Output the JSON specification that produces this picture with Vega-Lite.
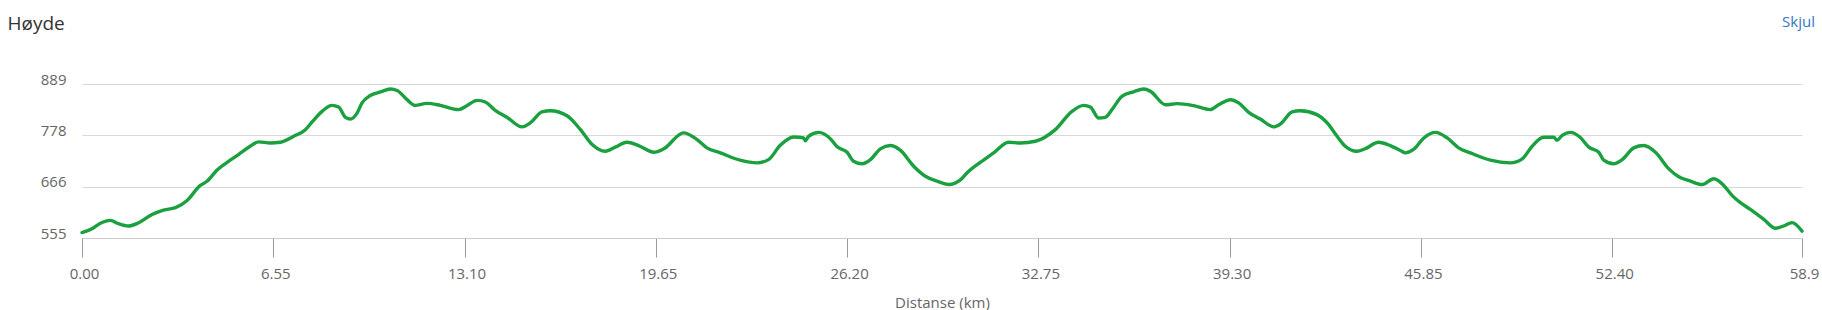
{
  "$schema": "https://vega.github.io/schema/vega-lite/v6.json",
  "width": 1720,
  "height": 154,
  "autosize": {"type": "none"},
  "padding": {"left": 82, "top": 84, "right": 20, "bottom": 72},
  "background": "white",
  "title": {
    "text": "Skjul",
    "anchor": "end",
    "frame": "group",
    "font": "Open Sans",
    "fontSize": 15,
    "fontWeight": "normal",
    "color": "#2f78c4",
    "baseline": "alphabetic",
    "dx": 13,
    "offset": -28
  },
  "data": {
    "values": [
      {"km": 0, "m": 566.7}, {"km": 0.34, "m": 575}, {"km": 0.63, "m": 586.8}, {"km": 0.97, "m": 593.3},
      {"km": 1.25, "m": 586}, {"km": 1.6, "m": 581}, {"km": 1.94, "m": 588}, {"km": 2.4, "m": 606},
      {"km": 2.79, "m": 615.6}, {"km": 3.2, "m": 620.7}, {"km": 3.6, "m": 636.5}, {"km": 4.05, "m": 669},
      {"km": 4.28, "m": 678}, {"km": 4.62, "m": 702}, {"km": 4.97, "m": 719}, {"km": 5.36, "m": 736},
      {"km": 5.76, "m": 754}, {"km": 6.05, "m": 763.5}, {"km": 6.45, "m": 761}, {"km": 6.79, "m": 762.7},
      {"km": 7.25, "m": 775.6}, {"km": 7.65, "m": 790}, {"km": 7.88, "m": 806.8}, {"km": 8.22, "m": 829.7},
      {"km": 8.56, "m": 842.7}, {"km": 8.79, "m": 839}, {"km": 9.02, "m": 816.7}, {"km": 9.19, "m": 813},
      {"km": 9.42, "m": 826}, {"km": 9.59, "m": 848}, {"km": 9.87, "m": 864}, {"km": 10.22, "m": 871.7},
      {"km": 10.56, "m": 878}, {"km": 10.79, "m": 875}, {"km": 11.13, "m": 855}, {"km": 11.41, "m": 842.7},
      {"km": 11.81, "m": 847}, {"km": 12.27, "m": 842.7}, {"km": 12.9, "m": 833.4}, {"km": 13.18, "m": 842},
      {"km": 13.53, "m": 853.5}, {"km": 13.81, "m": 850}, {"km": 14.15, "m": 832}, {"km": 14.55, "m": 817},
      {"km": 15.07, "m": 796}, {"km": 15.35, "m": 804.6}, {"km": 15.75, "m": 828.4}, {"km": 16.04, "m": 831},
      {"km": 16.61, "m": 820}, {"km": 17.07, "m": 790}, {"km": 17.47, "m": 757.7}, {"km": 17.92, "m": 743},
      {"km": 18.26, "m": 752}, {"km": 18.66, "m": 762.7}, {"km": 19.06, "m": 755.5}, {"km": 19.58, "m": 741},
      {"km": 19.92, "m": 748.4}, {"km": 20.6, "m": 783}, {"km": 21.06, "m": 768.5}, {"km": 21.4, "m": 750.5},
      {"km": 21.86, "m": 739.7}, {"km": 22.54, "m": 723.7}, {"km": 23.12, "m": 718}, {"km": 23.51, "m": 725},
      {"km": 23.91, "m": 756}, {"km": 24.37, "m": 774}, {"km": 24.71, "m": 772}, {"km": 24.77, "m": 765.7},
      {"km": 24.88, "m": 775.6}, {"km": 25.23, "m": 784}, {"km": 25.63, "m": 770}, {"km": 25.86, "m": 752.7},
      {"km": 26.2, "m": 741}, {"km": 26.42, "m": 721.6}, {"km": 26.71, "m": 716}, {"km": 27.0, "m": 725},
      {"km": 27.34, "m": 748.4}, {"km": 27.68, "m": 755.5}, {"km": 28.02, "m": 745.4}, {"km": 28.48, "m": 710.7},
      {"km": 28.88, "m": 689}, {"km": 29.28, "m": 678.3}, {"km": 29.68, "m": 671}, {"km": 30.08, "m": 681},
      {"km": 30.31, "m": 696.5}, {"km": 30.76, "m": 719}, {"km": 31.22, "m": 739.7}, {"km": 31.73, "m": 762.7},
      {"km": 32.13, "m": 761}, {"km": 32.65, "m": 764.8}, {"km": 33.33, "m": 790}, {"km": 33.9, "m": 829.7},
      {"km": 34.3, "m": 842.7}, {"km": 34.53, "m": 839}, {"km": 34.81, "m": 815.4}, {"km": 35.04, "m": 816.7},
      {"km": 35.27, "m": 833.4}, {"km": 35.61, "m": 862}, {"km": 36.01, "m": 872}, {"km": 36.36, "m": 878},
      {"km": 36.59, "m": 873}, {"km": 37.1, "m": 844}, {"km": 37.5, "m": 846.4}, {"km": 38.07, "m": 842},
      {"km": 38.64, "m": 833.4}, {"km": 38.92, "m": 844}, {"km": 39.33, "m": 855}, {"km": 39.61, "m": 848},
      {"km": 39.95, "m": 827.5}, {"km": 40.35, "m": 813}, {"km": 40.81, "m": 796}, {"km": 41.04, "m": 802.4},
      {"km": 41.44, "m": 828.4}, {"km": 41.72, "m": 831}, {"km": 42.29, "m": 822.6}, {"km": 42.64, "m": 804.6},
      {"km": 42.98, "m": 775.6}, {"km": 43.26, "m": 754}, {"km": 43.66, "m": 743}, {"km": 43.95, "m": 749},
      {"km": 44.4, "m": 762.7}, {"km": 44.8, "m": 755.5}, {"km": 45.15, "m": 744.7}, {"km": 45.32, "m": 739.7},
      {"km": 45.6, "m": 747}, {"km": 45.95, "m": 772}, {"km": 46.35, "m": 784}, {"km": 46.75, "m": 772},
      {"km": 47.14, "m": 750.5}, {"km": 47.54, "m": 739.7}, {"km": 48.23, "m": 723.7}, {"km": 48.91, "m": 718},
      {"km": 49.32, "m": 726.7}, {"km": 49.66, "m": 754}, {"km": 50.05, "m": 773.5}, {"km": 50.4, "m": 773.5},
      {"km": 50.51, "m": 767}, {"km": 50.68, "m": 777}, {"km": 50.96, "m": 784}, {"km": 51.3, "m": 773.5},
      {"km": 51.6, "m": 752}, {"km": 51.94, "m": 741}, {"km": 52.11, "m": 723.7}, {"km": 52.45, "m": 716},
      {"km": 52.74, "m": 725}, {"km": 53.14, "m": 750.5}, {"km": 53.48, "m": 755.5}, {"km": 53.88, "m": 741},
      {"km": 54.34, "m": 705}, {"km": 54.68, "m": 687.8}, {"km": 55.08, "m": 678.3}, {"km": 55.48, "m": 671},
      {"km": 55.88, "m": 683.5}, {"km": 56.22, "m": 669}, {"km": 56.51, "m": 647}, {"km": 56.79, "m": 631.6},
      {"km": 57.13, "m": 617}, {"km": 57.59, "m": 595.5}, {"km": 57.99, "m": 576}, {"km": 58.27, "m": 581},
      {"km": 58.56, "m": 588.3}, {"km": 58.9, "m": 570}
    ]
  },
  "mark": {
    "type": "line",
    "color": "#1aa03f",
    "strokeWidth": 3.4,
    "strokeCap": "round",
    "strokeJoin": "round",
    "interpolate": "monotone"
  },
  "encoding": {
    "x": {
      "field": "km",
      "type": "quantitative",
      "scale": {"domain": [0, 58.9], "nice": false, "zero": false},
      "axis": {
        "title": "Distanse (km)",
        "titleFont": "Open Sans",
        "titleFontSize": 15,
        "titleFontWeight": "normal",
        "titleColor": "#666666",
        "titleBaseline": "alphabetic",
        "titleY": 69,
        "values": [0, 6.55, 13.1, 19.65, 26.2, 32.75, 39.3, 45.85, 52.4, 58.9],
        "labelExpr": "datum.value >= 58.89 ? '58.9' : format(datum.value, '.2f')",
        "labelFont": "Open Sans",
        "labelFontSize": 15,
        "labelColor": "#666666",
        "labelPadding": 9,
        "labelOffset": 2,
        "labelFlush": false,
        "labelOverlap": false,
        "grid": false,
        "domainColor": "#cccccc",
        "domainWidth": 1,
        "tickColor": "#999999",
        "tickSize": 19,
        "tickWidth": 1
      }
    },
    "y": {
      "field": "m",
      "type": "quantitative",
      "scale": {"domain": [555, 889], "nice": false, "zero": false},
      "axis": {
        "title": "Høyde",
        "titleFont": "Open Sans",
        "titleFontSize": 19,
        "titleFontWeight": "normal",
        "titleColor": "#333333",
        "titleAngle": 0,
        "titleAlign": "left",
        "titleBaseline": "alphabetic",
        "titleX": -75,
        "titleY": -55,
        "values": [555, 666.33, 777.67, 889],
        "format": ".0f",
        "labelFont": "Open Sans",
        "labelFontSize": 15,
        "labelColor": "#666666",
        "labelBaseline": "alphabetic",
        "labelPadding": 16,
        "labelOverlap": false,
        "domain": false,
        "ticks": false,
        "grid": true,
        "gridColor": "#d8d8d8",
        "gridWidth": 1
      }
    }
  },
  "config": {
    "view": {"stroke": null}
  }
}
